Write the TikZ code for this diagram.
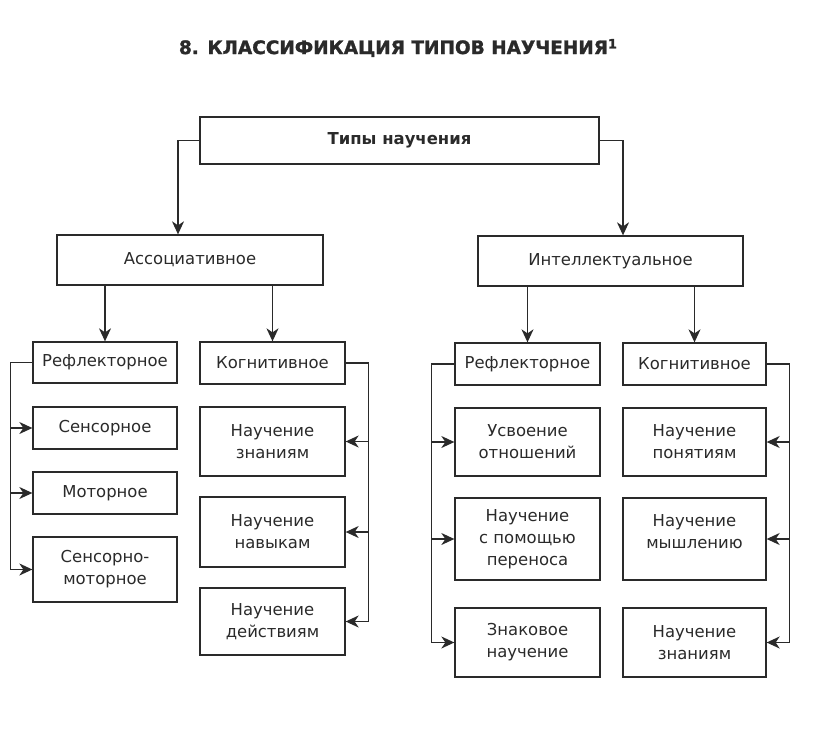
\documentclass[tikz,border=0pt]{standalone}
\usepackage{fontspec}
\setmainfont{DejaVu Sans}
\newfontfamily\heavy[BoldFeatures={FakeBold=1.5}]{DejaVu Sans}
\usetikzlibrary{arrows.meta}
\definecolor{ink}{HTML}{2a2a2a}
\tikzset{
  box/.style={draw=ink, line width=1.3bp, inner sep=2bp, align=center, text=ink,
    font=\fontsize{16.5}{22}\selectfont},
  lbl/.style={text=ink, align=center, inner sep=0pt, font=\fontsize{16.5}{22}\selectfont},
  arr/.style={draw=ink, line width=1.3bp, -{Stealth[length=13bp,width=12bp,inset=4bp]}},
  ln/.style={draw=ink, line width=1.3bp}
}
\begin{document}
\begin{tikzpicture}[x=1bp,y=-1bp]
\useasboundingbox (0,0) rectangle (816,743);
\node[text=ink, inner sep=0] (title) at (398,48)
  {\resizebox{438bp}{!}{\heavy\bfseries 8. КЛАССИФИКАЦИЯ ТИПОВ НАУЧЕНИЯ\raisebox{0.55ex}{\scriptsize 1}}};
\node[box, font=\fontsize{16.5}{22}\selectfont\bfseries, minimum width=399bp, minimum height=47bp] (top) at (399.5,140.5) {Типы научения};
\node[box, minimum width=266bp, minimum height=50bp] (assoc) at (190,260) {Ассоциативное};
\node[box, minimum width=265bp, minimum height=50bp] (intel) at (610.5,261) {Интеллектуальное};
% left-left column
\node[box, minimum width=144bp, minimum height=41bp] (refl1) at (105,362.5) {Рефлекторное};
\node[box, minimum width=144bp, minimum height=42bp] (sens) at (105,428) {Сенсорное};
\node[box, minimum width=144bp, minimum height=42bp] (mot) at (105,493) {Моторное};
\node[box, minimum width=144bp, minimum height=65bp] (sensmot) at (105,569.5) {Сенсорно-\\моторное};
% left-right column
\node[box, minimum width=145bp, minimum height=42bp] (kogn1) at (272.5,363) {Когнитивное};
\node[box, minimum width=145bp, minimum height=69bp] (zn1) at (272.5,441.5) {Научение\\знаниям};
\node[box, minimum width=145bp, minimum height=70bp] (nav) at (272.5,532) {Научение\\навыкам};
\node[box, minimum width=145bp, minimum height=67bp] (deys) at (272.5,621.5) {Научение\\действиям};
% right-left column
\node[box, minimum width=145bp, minimum height=42bp] (refl2) at (527.5,364) {Рефлекторное};
\node[box, minimum width=145bp, minimum height=68bp] (usv) at (527.5,442) {Усвоение\\отношений};
\node[box, minimum width=145bp, minimum height=82bp] (per) at (527.5,539) {Научение\\с помощью\\переноса};
\node[box, minimum width=145bp, minimum height=69bp] (znak) at (527.5,642.5) {Знаковое\\научение};
% right-right column
\node[box, minimum width=143bp, minimum height=42bp] (kogn2) at (694.5,364) {Когнитивное};
\node[box, minimum width=143bp, minimum height=68bp] (pon) at (694.5,442) {Научение\\понятиям};
\node[box, minimum width=143bp, minimum height=82bp] (mysh) at (694.5,539) {};
\node[lbl] (myshtext) at (694.5,532) {Научение\\мышлению};
\node[box, minimum width=143bp, minimum height=69bp] (zn2) at (694.5,642.5) {Научение\\знаниям};
% top connectors
\draw[arr] (top.west) -| ([xshift=-12bp]assoc.north);
\draw[arr] (top.east) -| ([xshift=12.5bp]intel.north);
% second level
\draw[arr] (refl1.north |- assoc.south) -- (refl1.north);
\draw[arr] (kogn1.north |- assoc.south) -- (kogn1.north);
\draw[arr] (refl2.north |- intel.south) -- (refl2.north);
\draw[arr] (kogn2.north |- intel.south) -- (kogn2.north);
% buses
\draw[ln] (refl1.west) -- ++(-22,0) coordinate (b1);
\draw[arr] (b1) |- (sens.west);
\draw[arr] (b1) |- (mot.west);
\draw[arr] (b1) |- (sensmot.west);
\draw[ln] (kogn1.east) -- ++(23,0) coordinate (b2);
\draw[arr] (b2) |- (zn1.east);
\draw[arr] (b2) |- (nav.east);
\draw[arr] (b2) |- (deys.east);
\draw[ln] (refl2.west) -- ++(-23,0) coordinate (b3);
\draw[arr] (b3) |- (usv.west);
\draw[arr] (b3) |- (per.west);
\draw[arr] (b3) |- (znak.west);
\draw[ln] (kogn2.east) -- ++(23,0) coordinate (b4);
\draw[arr] (b4) |- (pon.east);
\draw[arr] (b4) |- (mysh.east);
\draw[arr] (b4) |- (zn2.east);
\end{tikzpicture}
\end{document}
